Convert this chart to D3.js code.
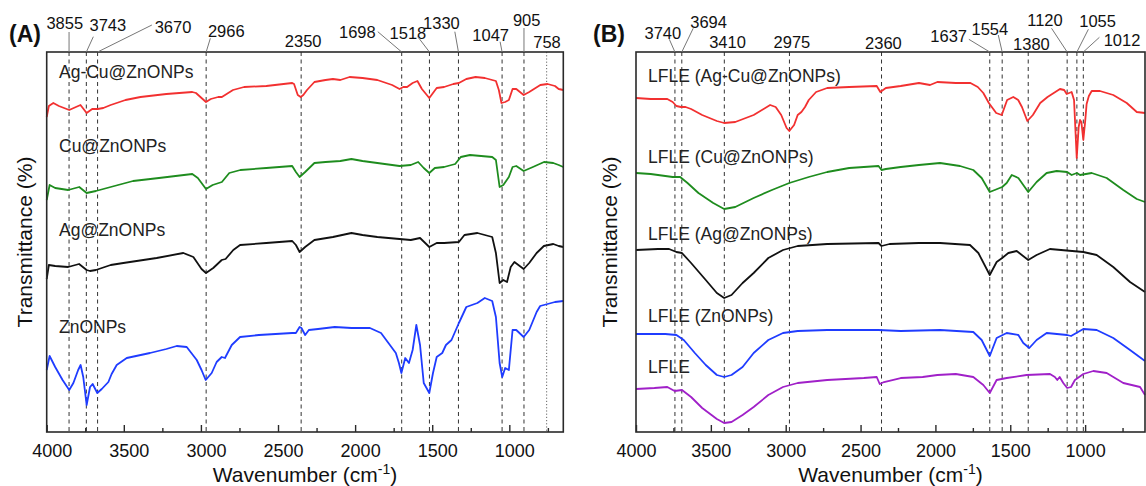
<!DOCTYPE html>
<html>
<head>
<meta charset="utf-8">
<script src="https://cdn.jsdelivr.net/npm/d3@7"></script>
<style>
  html, body { margin: 0; padding: 0; background: #fff; }
  svg { display: block; font-family: "Liberation Sans", Arial, sans-serif; }
</style>
</head>
<body>
<svg id="chart" width="1146" height="486"></svg>
<script>
// ---------------- DATA ----------------
// Wavenumber tick labels
const majorTicks = [4000, 3500, 3000, 2500, 2000, 1500, 1000];
const minorTicks = [3750, 3250, 2750, 2250, 1750, 1250, 750];

// Panel A series names (top to bottom)
const namesA = ["Ag-Cu@ZnONPs", "Cu@ZnONPs", "Ag@ZnONPs", "ZnONPs"];
// Panel B series names (top to bottom)
const namesB = ["LFLE (Ag-Cu@ZnONPs)", "LFLE (Cu@ZnONPs)", "LFLE (Ag@ZnONPs)", "LFLE (ZnONPs)", "LFLE"];

// Marked peaks (cm-1)
const peaksA = [3855, 3743, 3670, 2966, 2350, 1698, 1518, 1330, 1047, 905, 758];
const peaksB = [3740, 3694, 3410, 2975, 2360, 1637, 1554, 1380, 1120, 1055, 1012];

// Spectra: [wavenumber, transmittance (a.u., stacked offsets)]
const agCuZnO = [[4000,315],[3986,326],[3957,329],[3921,326],[3854,322],[3825,324],[3781,327],[3741,319],[3705,323],[3669,323],[3633,324],[3585,327],[3489,332],[3392,335],[3224,338],[3056,340],[3032,339],[2996,334],[2967,330],[2936,333],[2888,335],[2864,335],[2792,342],[2720,345],[2576,346],[2408,349],[2396,348],[2372,337],[2353,335],[2336,337],[2312,342],[2264,350],[2192,352],[2144,353],[2096,352],[2036,355],[1952,354],[1856,352],[1760,347],[1712,343],[1687,345],[1663,345],[1627,349],[1596,351],[1567,343],[1519,334],[1495,339],[1471,344],[1423,345],[1363,348],[1327,349],[1279,353],[1219,355],[1159,354],[1087,351],[1068,342],[1051,329],[1027,330],[1003,332],[979,343],[955,343],[907,337],[871,340],[799,347],[752,348],[704,346],[680,343],[650,342]];

const cuZnO = [[4000,232],[3981,247],[3945,244],[3861,242],[3789,245],[3741,239],[3681,241],[3633,243],[3537,247],[3440,251],[3272,254],[3056,258],[3020,254],[2967,243],[2924,247],[2864,250],[2816,259],[2744,262],[2576,264],[2408,266],[2384,260],[2360,255],[2324,260],[2264,269],[2192,270],[2096,271],[2024,273],[1952,271],[1856,269],[1712,266],[1639,267],[1591,270],[1555,264],[1519,259],[1483,264],[1423,265],[1351,268],[1315,275],[1255,277],[1111,275],[1087,272],[1063,245],[1039,247],[1003,255],[979,265],[955,266],[907,261],[847,265],[775,270],[715,269],[680,267],[650,265]];

const agZnO = [[4000,153],[3986,167],[3945,166],[3861,165],[3790,168],[3741,162],[3719,161],[3681,162],[3585,167],[3503,169],[3287,174],[3114,179],[3049,175],[2996,163],[2967,159],[2920,164],[2865,172],[2840,173],[2790,182],[2746,187],[2576,189],[2408,191],[2384,187],[2360,180],[2324,185],[2264,192],[2144,195],[2024,199],[1952,197],[1856,195],[1712,193],[1639,192],[1579,194],[1519,185],[1471,189],[1423,189],[1327,190],[1291,197],[1207,199],[1111,195],[1087,179],[1063,149],[1039,152],[1015,150],[991,165],[967,170],[907,163],[871,169],[823,179],[776,186],[715,188],[680,186],[650,185]];

const znO = [[4000,62],[3981,76],[3945,65],[3897,52],[3854,42],[3827,49],[3796,62],[3780,67],[3763,55],[3741,27],[3719,45],[3702,48],[3672,39],[3643,43],[3600,50],[3579,58],[3546,67],[3481,74],[3330,79],[3224,83],[3157,86],[3092,85],[3027,72],[2996,62],[2969,52],[2930,59],[2898,70],[2865,75],[2844,74],[2800,87],[2746,95],[2624,97],[2408,99],[2384,99],[2360,105],[2348,104],[2324,97],[2300,102],[2240,103],[2132,105],[2024,104],[1904,104],[1832,99],[1784,89],[1736,79],[1716,69],[1700,59],[1675,74],[1651,69],[1627,82],[1603,107],[1579,87],[1555,49],[1519,39],[1495,59],[1471,75],[1435,79],[1411,87],[1375,92],[1327,109],[1279,125],[1207,129],[1159,134],[1111,131],[1087,115],[1063,69],[1046,55],[1027,64],[1003,62],[979,102],[955,102],[907,95],[871,102],[823,120],[800,126],[752,128],[704,130],[650,131]];

const lfleAgCu = [[4000,334],[3902,333],[3791,333],[3755,330],[3730,326],[3700,325],[3669,325],[3632,323],[3558,317],[3460,311],[3411,309],[3337,310],[3214,317],[3104,327],[3067,325],[3030,317],[2994,304],[2976,301],[2944,307],[2920,317],[2895,320],[2871,325],[2846,332],[2797,340],[2723,344],[2576,345],[2392,346],[2368,340],[2331,344],[2232,346],[2110,349],[2036,347],[1987,350],[1864,349],[1766,349],[1717,345],[1680,339],[1643,329],[1594,319],[1557,317],[1521,332],[1480,335],[1447,332],[1422,325],[1386,311],[1349,317],[1300,329],[1251,335],[1168,343],[1140,342],[1123,338],[1090,340],[1074,332],[1056,274],[1043,305],[1034,312],[1025,310],[1012,292],[1000,310],[990,328],[975,336],[956,341],[901,341],[812,337],[722,329],[655,320],[600,319]];

const lfleCu = [[4000,259],[3902,258],[3755,255],[3705,255],[3656,249],[3583,239],[3484,229],[3411,223],[3337,225],[3214,234],[3092,242],[2976,249],[2846,255],[2723,260],[2576,264],[2380,266],[2360,262],[2331,263],[2232,265],[2110,267],[1969,269],[1836,266],[1747,262],[1691,254],[1637,240],[1554,245],[1524,249],[1490,257],[1446,254],[1380,240],[1324,250],[1257,259],[1190,261],[1120,260],[1090,257],[1055,259],[1034,257],[956,259],[856,254],[745,242],[655,233],[600,230]];

const lfleAg = [[4000,182],[3853,183],[3779,183],[3730,180],[3693,179],[3632,169],[3534,152],[3460,139],[3411,134],[3362,137],[3288,149],[3214,159],[3116,174],[3018,182],[2920,186],[2723,188],[2380,189],[2360,186],[2306,188],[2110,189],[1969,189],[1769,187],[1713,179],[1637,157],[1591,170],[1554,174],[1513,179],[1457,181],[1380,172],[1324,177],[1235,183],[1012,180],[923,177],[812,165],[700,150],[600,140]];

const lfleZnO = [[4000,98],[3804,98],[3730,97],[3681,92],[3607,79],[3534,67],[3460,57],[3411,55],[3362,57],[3288,65],[3214,79],[3116,92],[3018,99],[2920,101],[2723,102],[2380,102],[2232,101],[1969,102],[1747,100],[1691,92],[1637,76],[1591,94],[1524,99],[1446,97],[1413,89],[1373,84],[1324,92],[1257,99],[1120,97],[1094,96],[1012,103],[923,102],[812,94],[700,82],[600,71]];

const lfle = [[4000,43],[3877,44],[3791,45],[3742,41],[3693,42],[3632,35],[3558,24],[3460,13],[3411,9],[3362,10],[3288,17],[3214,25],[3116,37],[3018,45],[2920,49],[2723,52],[2478,54],[2392,55],[2372,48],[2343,50],[2232,54],[2085,55],[1987,57],[1864,58],[1747,55],[1680,47],[1637,39],[1591,52],[1524,54],[1391,57],[1235,58],[1202,55],[1186,52],[1170,55],[1146,49],[1120,44],[1094,45],[1068,52],[1012,58],[945,61],[856,59],[745,49],[633,45],[600,37]];

const colorsA = ["#f23030", "#1e8c1e", "#111111", "#1f3cff"];
const colorsB = ["#f23030", "#1e8c1e", "#111111", "#1f3cff", "#a020c8"];

// ---------------- LAYOUT ----------------
const plotTop = 52, plotBottom = 432;
const panels = [
  { id: "A", x0: 46.7, x1: 563.3, domain: [4000, 650], series: [agCuZnO, cuZnO, agZnO, znO],
    names: namesA, colors: colorsA, peaks: peaksA,
    tag: { x: 25, y: 42 }, ytitleX: 32, tickDx: 5,
    nameX: 59, nameY: [78, 152, 236, 333],
    // [label dx from line, label baseline y, leader start dx, leader start y] (null = no leader)
    peakLabels: [[-4.3,29.3,0,32],[21.5,30.7,7,36.7],[75.4,32.7,54.3,25],[20.1,37.3,4.2,38.3],[2,46.7,null,null],[-44.3,38.3,-23.9,31.7],[-21.5,39.3,-11.7,36.7],[-17,29.3,-3.6,31.7],[-11.4,40.7,-2,41.7],[2.7,26,0,28],[0.4,48.3,null,null]],
    dotted: [758] },
  { id: "B", x0: 636, x1: 1145, domain: [4000, 600], series: [lfleAgCu, lfleCu, lfleAg, lfleZnO, lfle],
    names: namesB, colors: colorsB, peaks: peaksB,
    tag: { x: 609, y: 42 }, ytitleX: 617, tickDx: 0,
    nameX: 648, nameY: [81.5, 163, 240, 321.5, 373],
    peakLabels: [[-12.1,39,-5.6,39.3],[26.8,28.3,11.4,28.3],[3.2,48.3,null,null],[2.5,48.3,null,null],[1.9,49.3,null,null],[-41.1,41.7,-20.9,39.3],[-12.3,35,-3.9,35],[3.2,50,null,null],[-22.2,26,-15.6,28.3],[20.7,27.3,11.5,29.3],[38.7,46,16.1,37.3]],
    dotted: [] }
];

const svg = d3.select("#chart");
svg.append("rect").attr("width", 1146).attr("height", 486).attr("fill", "#fff");

const y = d3.scaleLinear().domain([0, 380]).range([plotBottom, plotTop]);

panels.forEach(p => {
  const x = d3.scaleLinear().domain(p.domain).range([p.x0, p.x1]);
  const g = svg.append("g");

  // dashed peak lines
  p.peaks.forEach(v => {
    const isDot = p.dotted.includes(v);
    g.append("line")
      .attr("x1", x(v)).attr("x2", x(v))
      .attr("y1", plotTop).attr("y2", plotBottom)
      .attr("stroke", isDot ? "#666" : "#333")
      .attr("stroke-width", 1)
      .attr("stroke-dasharray", isDot ? "1.2,2" : "4,3.5");
  });

  // spectra
  const line = d3.line().x(d => x(d[0])).y(d => y(d[1])).curve(d3.curveLinear);
  p.series.forEach((s, i) => {
    g.append("path").datum(s)
      .attr("d", line)
      .attr("fill", "none")
      .attr("stroke", p.colors[i])
      .attr("stroke-width", 1.8)
      .attr("stroke-linejoin", "round");
  });

  // series names
  p.names.forEach((n, i) => {
    g.append("text").attr("x", p.nameX).attr("y", p.nameY[i])
      .attr("font-size", 17.5).attr("fill", "#222").text(n);
  });

  // frame
  g.append("rect").attr("x", p.x0).attr("y", plotTop)
    .attr("width", p.x1 - p.x0).attr("height", plotBottom - plotTop)
    .attr("fill", "none").attr("stroke", "#2a2a2a").attr("stroke-width", 1.6);

  // axes (ticks inward)
  const axMaj = d3.axisBottom(x).tickValues(majorTicks).tickFormat(d3.format("d"))
    .tickSizeInner(-7).tickSizeOuter(0).tickPadding(12);
  const axG = g.append("g").attr("transform", `translate(0,${plotBottom})`).call(axMaj);
  axG.select(".domain").remove();
  axG.selectAll(".tick line").attr("stroke", "#2a2a2a").attr("stroke-width", 1.4);
  axG.selectAll(".tick text").attr("font-size", 18).attr("fill", "#111")
     .attr("font-family", "Liberation Sans, Arial, sans-serif").attr("dx", p.tickDx);
  const axMin = d3.axisBottom(x).tickValues(minorTicks).tickSizeInner(-4).tickSizeOuter(0).tickFormat("");
  const axG2 = g.append("g").attr("transform", `translate(0,${plotBottom})`).call(axMin);
  axG2.select(".domain").remove();
  axG2.selectAll(".tick line").attr("stroke", "#2a2a2a").attr("stroke-width", 1.4);

  // peak labels + leaders
  p.peaks.forEach((v, i) => {
    const [dx, ly, lx0, ly0] = p.peakLabels[i];
    g.append("text").attr("x", x(v) + dx).attr("y", ly)
      .attr("text-anchor", "middle").attr("font-size", 16.5).attr("fill", "#111").text(v);
    if (lx0 !== null) {
      g.append("line").attr("x1", x(v) + lx0).attr("y1", ly0)
        .attr("x2", x(v)).attr("y2", plotTop)
        .attr("stroke", "#777").attr("stroke-width", 1);
    }
  });

  // panel tag
  g.append("text").attr("x", p.tag.x).attr("y", p.tag.y).attr("text-anchor", "middle")
    .attr("font-size", 23).attr("font-weight", "bold").attr("fill", "#111").text(`(${p.id})`);

  // x title
  const xt = g.append("text").attr("x", (p.x0 + p.x1) / 2).attr("y", 482)
    .attr("text-anchor", "middle").attr("font-size", 21).attr("fill", "#111");
  xt.append("tspan").text("Wavenumber (cm");
  xt.append("tspan").attr("dy", -8).attr("font-size", 14).text("-1");
  xt.append("tspan").attr("dy", 8).text(")");

  // y title
  g.append("text").attr("transform", `translate(${p.ytitleX},${(plotTop + plotBottom) / 2}) rotate(-90)`)
    .attr("text-anchor", "middle").attr("font-size", 21).attr("fill", "#111").text("Transmittance (%)");
});
</script>
</body>
</html>
